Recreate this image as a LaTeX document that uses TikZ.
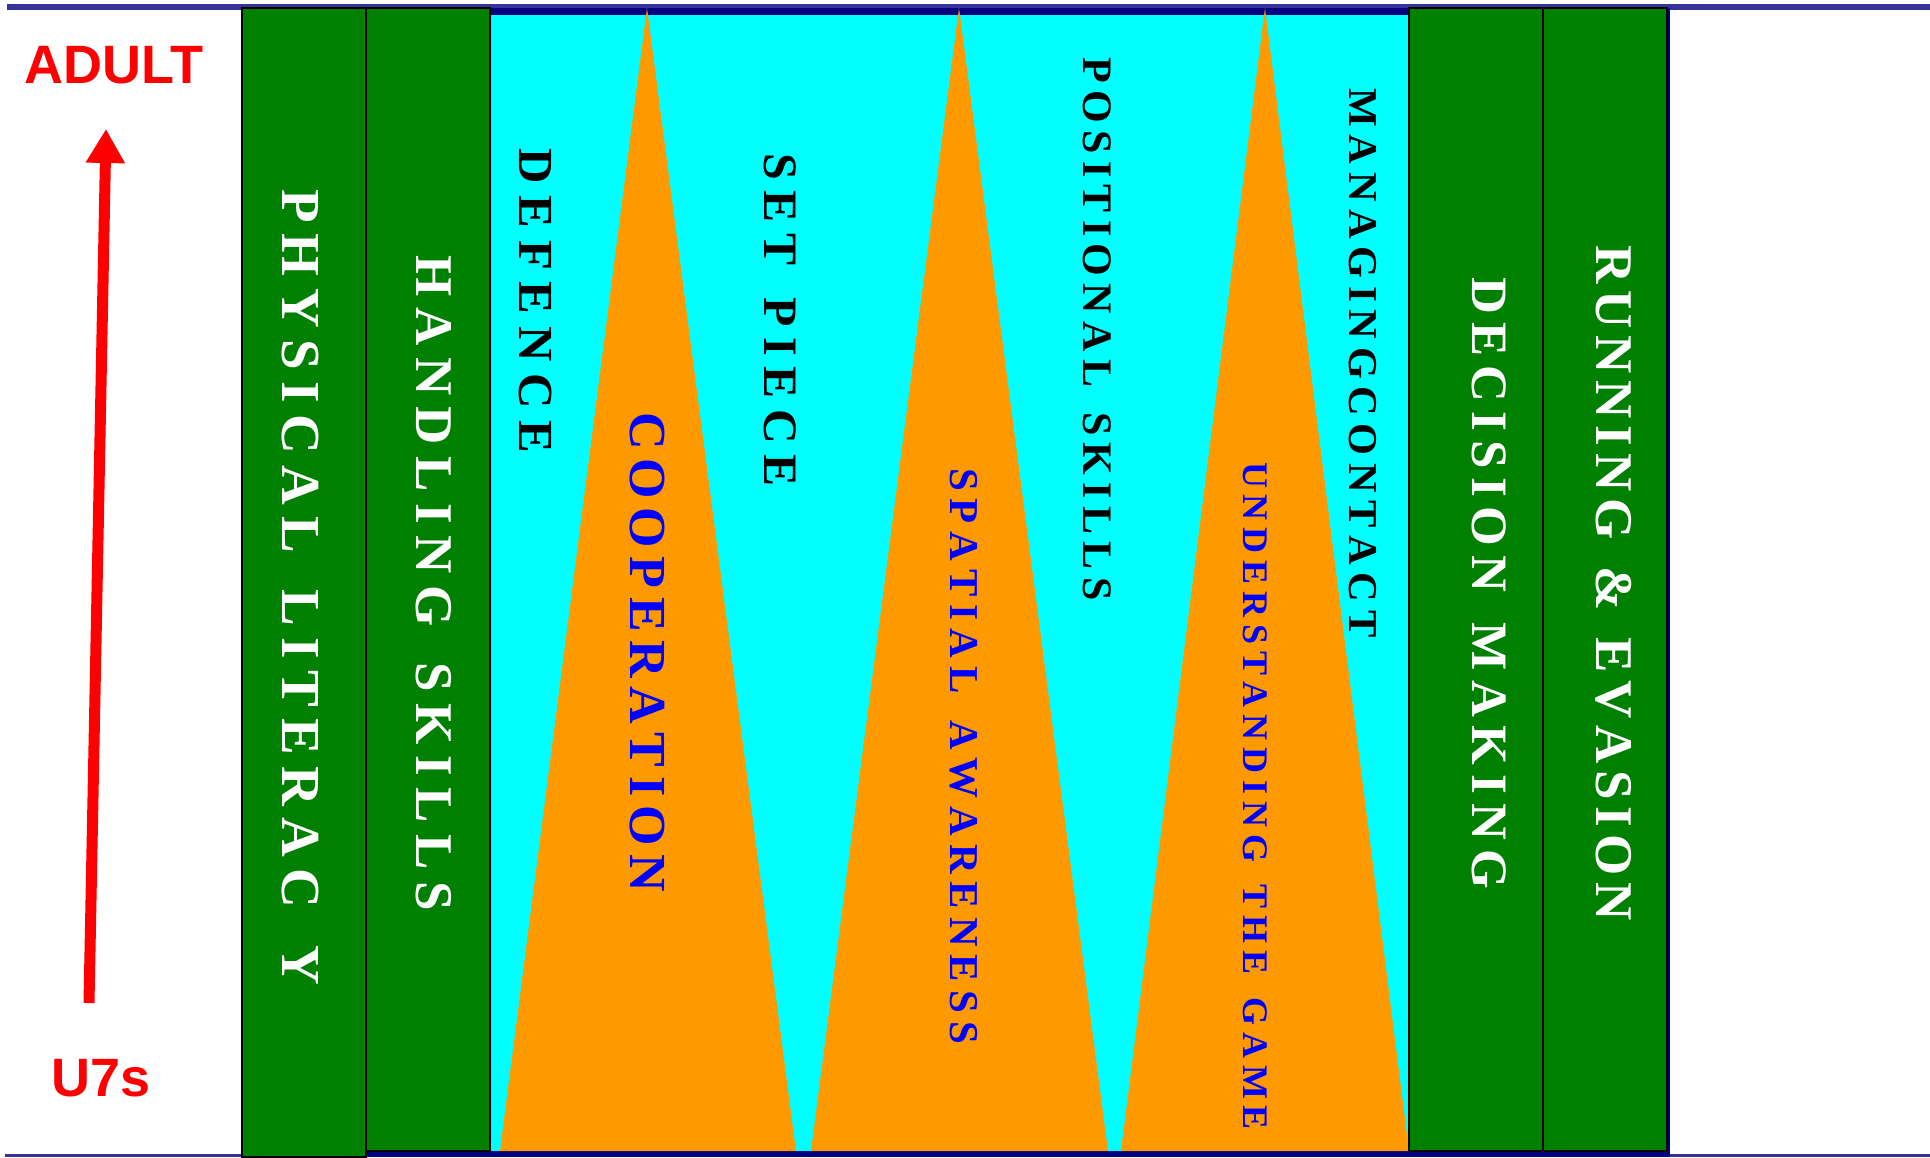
\documentclass[tikz,border=0pt]{standalone}
\usepackage{fontspec}
\setmainfont{Liberation Serif}
\newfontfamily\arialfont{Liberation Sans}
\usetikzlibrary{arrows.meta}
\definecolor{grn}{HTML}{008000}
\definecolor{cyn}{HTML}{00FFFF}
\definecolor{orng}{HTML}{FF9900}
\definecolor{navyb}{HTML}{000080}
\definecolor{lineblue}{HTML}{333399}
\definecolor{txtblue}{HTML}{0000FF}
\definecolor{txtred}{HTML}{FF0000}
\def\lsp#1{\lspfirst#1\relax}
\def\lspfirst#1{#1\lspaux}
\def\lspaux#1{\ifx#1\relax\else\hspace{0pt plus 1fil}#1\expandafter\lspaux\fi}
\newcommand\spreadtext[2]{\hbox to #1{\lsp{#2}}}
\begin{document}
\begin{tikzpicture}[x=1pt,y=1pt,
  colbox/.style={fill=grn, draw=black, line width=1.5pt},
  lbl/.style={rotate=-90, inner sep=0pt},
  sz/.style={font=\bfseries\fontsize{#1}{#1}\selectfont},
  agelbl/.style={text=txtred, inner sep=0pt, font=\arialfont\bfseries\fontsize{54}{54}\selectfont},
]
\useasboundingbox[fill=white] (0,0) rectangle (1930,-1157);
% top and bottom rules
\fill[lineblue] (7,-4) rectangle (1930,-10);
\fill[lineblue] (5,-1154) rectangle (1930,-1157);
% navy frame and cyan field
\fill[navyb] (366,-8) rectangle (1670,-1157);
\fill[cyn] (490,-15) rectangle (1409,-1151);
% orange wedges
\fill[orng] (647,-8) -- (796,-1151) -- (500,-1151) -- cycle;
\fill[orng] (959,-8) -- (1108,-1151) -- (811,-1151) -- cycle;
\fill[orng] (1265,-8) -- (1409,-1151) -- (1121,-1151) -- cycle;
% green columns
\draw[colbox] (242,-8) rectangle (366,-1157);
\draw[colbox] (366,-8) rectangle (490,-1151);
\draw[colbox] (1409,-8) rectangle (1543,-1151);
\draw[colbox] (1543,-8) rectangle (1667,-1151);
% labels
\node[lbl, sz=55, text=white] (phys) at (300,-587) {\spreadtext{796pt}{PHYSICAL~LITERAC~Y}};
\node[lbl, sz=53, text=white] (hand) at (434,-583) {\spreadtext{656pt}{HANDLING~SKILLS}};
\node[lbl, sz=49, text=black] (def) at (535,-301) {\spreadtext{305pt}{DEFENCE}};
\node[lbl, sz=52, text=txtblue] (coop) at (647,-652) {\spreadtext{480pt}{COOPERATION}};
\node[lbl, sz=48, text=black] (setp) at (780,-320) {\spreadtext{333pt}{SET~PIECE}};
\node[lbl, sz=41, text=txtblue] (spat) at (964,-756) {\spreadtext{576pt}{SPATIAL~AWARENESS}};
\node[lbl, sz=42, text=black] (posi) at (1097,-329) {\spreadtext{543pt}{POSITIONAL~SKILLS}};
\node[lbl, sz=36, text=txtblue] (und) at (1255,-796) {\spreadtext{668pt}{UNDERSTANDING~THE~GAME}};
\node[lbl, sz=41, text=black] (man) at (1363,-363) {\spreadtext{549pt}{MANAGINGCONTACT}};
\node[lbl, sz=51, text=white] (dec) at (1489,-583) {\spreadtext{612pt}{DECISION~MAKING}};
\node[lbl, sz=53, text=white] (run) at (1614,-583) {\spreadtext{675pt}{RUNNING~\&~EVASION}};
% age axis
\node[agelbl] (adult) at (114,-65) {ADULT};
\node[agelbl] (u7s) at (101,-1078) {U7s};
\coordinate (tail) at (89,-1003);
\coordinate (tip) at (106,-129);
\draw[txtred, line width=11pt, -{Triangle[width=37pt,length=34pt]}] (tail) -- (tip);
\end{tikzpicture}
\end{document}
